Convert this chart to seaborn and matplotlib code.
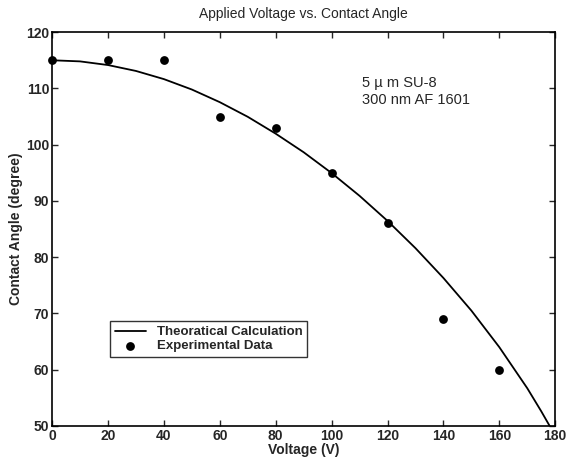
import numpy as np
import pandas as pd
import matplotlib
matplotlib.use("Agg")
import matplotlib.pyplot as plt
import seaborn as sns

# ======================================
# DATA
# ======================================

# experimental points
voltage_exp = [0, 20, 40, 60, 80, 100, 120, 140, 160]
angle_exp = [115, 115, 115, 105, 103, 95, 86, 69, 60]

# theoretical curve
voltage_th = [0, 10, 20, 30, 40, 50, 60, 70, 80, 90, 100, 110, 120,
              130, 140, 150, 160, 170, 175, 178]
angle_th = [115.0, 114.8, 114.15, 113.1, 111.65, 109.8, 107.55, 104.95,
            101.95, 98.65, 94.95, 90.9, 86.45, 81.6, 76.3, 70.5, 64.0,
            56.7, 52.6, 50.0]

x_ticks = [0, 20, 40, 60, 80, 100, 120, 140, 160, 180]
y_ticks = [50, 60, 70, 80, 90, 100, 110, 120]

exp_df = pd.DataFrame({"Voltage": voltage_exp, "Angle": angle_exp})
th_df = pd.DataFrame({"Voltage": voltage_th, "Angle": angle_th})

# ======================================
# PLOT
# ======================================

sns.set_style("ticks")
plt.rcParams["font.family"] = ["Liberation Sans", "DejaVu Sans"]

fig = plt.figure(figsize=(5.66, 4.59), dpi=100)
ax = fig.add_axes([0.092, 0.072, 0.889, 0.858])

sns.lineplot(data=th_df, x="Voltage", y="Angle", ax=ax, color="black",
             linewidth=1.3, label="Theoratical Calculation", sort=False)
sns.scatterplot(data=exp_df, x="Voltage", y="Angle", ax=ax, color="black",
                s=40, edgecolor="black", linewidth=0,
                label="Experimental Data", clip_on=False, zorder=3)

ax.set_xlim(0, 180)
ax.set_ylim(50, 120)
ax.set_xticks(x_ticks)
ax.set_yticks(y_ticks)
ax.tick_params(direction="in", length=4, width=1, top=True, right=True,
               labelsize=10, pad=2)
for lbl in ax.get_xticklabels() + ax.get_yticklabels():
    lbl.set_fontweight("bold")
for side in ax.spines.values():
    side.set_linewidth(1.2)
    side.set_color("black")

ax.set_title("Applied Voltage vs. Contact Angle", fontsize=10, pad=10)
ax.set_xlabel("Voltage (V)", fontsize=10, fontweight="bold", labelpad=0)
ax.set_ylabel("Contact Angle (degree)", fontsize=10, fontweight="bold",
              labelpad=2)

ax.text(110.9, 112.2, "5 \u00b5 m SU-8\n300 nm AF 1601", fontsize=10.5,
        va="top", ha="left", linespacing=1.25)

leg = ax.legend(loc="lower left", bbox_to_anchor=(0.115, 0.175),
                frameon=True, fancybox=False, edgecolor="black",
                fontsize=9.5, handlelength=2.4, borderpad=0.35,
                labelspacing=0.15, handletextpad=0.8, borderaxespad=0)
leg.get_frame().set_linewidth(1.0)
for t in leg.get_texts():
    t.set_fontweight("bold")

fig.savefig("out.png", dpi=100)
plt.close()
